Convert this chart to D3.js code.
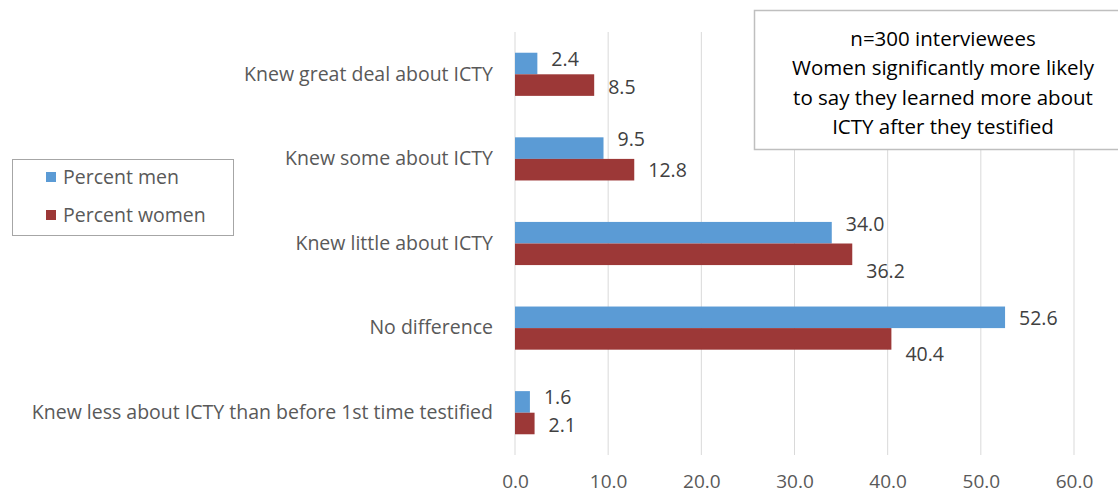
<!DOCTYPE html>
<html>
<head>
<meta charset="utf-8">
<script src="https://cdn.jsdelivr.net/npm/d3@7"></script>
<style>
  body { margin: 0; background: #fff; }
  svg text { font-family: "Open Sans", "Noto Sans", sans-serif; }
</style>
</head>
<body>
<div id="chart"></div>
<script>
// data
var categories = [
  "Knew great deal about ICTY",
  "Knew some about ICTY",
  "Knew little about ICTY",
  "No difference",
  "Knew less about ICTY than before 1st time testified"
];
var seriesNames = ["Percent men", "Percent women"];
var percentMen = [2.4, 9.5, 34.0, 52.6, 1.6];
var percentWomen = [8.5, 12.8, 36.2, 40.4, 2.1];
var xTicks = [0, 10, 20, 30, 40, 50, 60];
var noteLines = [
  "n=300 interviewees",
  "Women significantly more likely",
  "to say they learned more about",
  "ICTY after they testified"
];

// label nudges (vertical, px) so labels sit like the original
var menLabelDy = [-4, -9, -9, 1, -5];
var womenLabelDy = [2, 1, 17, 15, 2];

var colors = ["#5B9BD5", "#9C3837"];

var svgWidth = 1118;
var svgHeight = 495;
var margin = { top: 32, right: 44, bottom: 40, left: 515 };
var width = svgWidth - margin.left - margin.right;
var height = svgHeight - margin.top - margin.bottom;

var svg = d3.select("#chart")
            .append("svg")
            .attr("width", svgWidth)
            .attr("height", svgHeight);

var chartGroup = svg.append("g")
                    .attr("transform", `translate(${margin.left}, ${margin.top})`);

var xScale = d3.scaleLinear()
               .domain([0, 60])
               .range([0, 559]);

var yScale = d3.scaleBand()
               .domain(categories)
               .range([0, height])
               .paddingInner(0.49)
               .paddingOuter(0.245);

var subScale = d3.scaleBand()
                 .domain(seriesNames)
                 .range([0, yScale.bandwidth()]);

// gridlines
chartGroup.selectAll(".grid")
          .data(xTicks)
          .enter()
          .append("line")
          .attr("x1", d => xScale(d))
          .attr("x2", d => xScale(d))
          .attr("y1", 0)
          .attr("y2", height)
          .attr("stroke", "#d9d9d9")
          .attr("stroke-width", 1);

// x axis labels
var bottomAxis = d3.axisBottom(xScale)
                   .tickValues(xTicks)
                   .tickFormat(d3.format(".1f"))
                   .tickSize(0)
                   .tickPadding(20);

var xAxisG = chartGroup.append("g")
                       .attr("transform", `translate(0, ${height})`)
                       .call(bottomAxis);
xAxisG.select(".domain").remove();
xAxisG.selectAll("text")
      .attr("font-size", 19)
      .attr("fill", "#595959")
      .style("font-family", "'Open Sans', sans-serif");

// y axis labels
var leftAxis = d3.axisLeft(yScale)
                 .tickSize(0)
                 .tickPadding(22);
var yAxisG = chartGroup.append("g").call(leftAxis);
yAxisG.select(".domain").remove();
yAxisG.selectAll("text")
      .attr("font-size", 19.5)
      .attr("fill", "#595959")
      .style("font-family", "'Open Sans', sans-serif");

// bars
var rows = categories.map(function(c, i) {
  return { cat: c, i: i, values: [percentMen[i], percentWomen[i]] };
});

var rowGroups = chartGroup.selectAll(".row")
                          .data(rows)
                          .enter()
                          .append("g")
                          .attr("transform", d => `translate(0, ${yScale(d.cat)})`);

rowGroups.selectAll("rect")
         .data(d => d.values.map((v, s) => ({ v: v, s: s, i: d.i })))
         .enter()
         .append("rect")
         .attr("x", xScale(0))
         .attr("y", d => subScale(seriesNames[d.s]))
         .attr("width", d => xScale(d.v) - xScale(0))
         .attr("height", subScale.bandwidth())
         .attr("fill", d => colors[d.s]);

rowGroups.selectAll(".val")
         .data(d => d.values.map((v, s) => ({ v: v, s: s, i: d.i })))
         .enter()
         .append("text")
         .attr("x", d => xScale(d.v) + 14)
         .attr("y", d => subScale(seriesNames[d.s]) + subScale.bandwidth() / 2 +
                         (d.s === 0 ? menLabelDy[d.i] : womenLabelDy[d.i]))
         .attr("dy", "0.35em")
         .attr("font-size", 19.5)
         .attr("fill", "#404040")
         .text(d => d3.format(".1f")(d.v));

// legend
var legend = svg.append("g").attr("transform", "translate(12, 159)");
legend.append("rect")
      .attr("x", 0.5).attr("y", 0.5)
      .attr("width", 221).attr("height", 76)
      .attr("fill", "#fff")
      .attr("stroke", "#a6a6a6");
var legendItems = legend.selectAll(".item")
                        .data(seriesNames)
                        .enter()
                        .append("g")
                        .attr("transform", (d, i) => `translate(34, ${18 + i * 38})`);
legendItems.append("rect")
           .attr("x", 0).attr("y", -5)
           .attr("width", 10).attr("height", 10)
           .attr("fill", (d, i) => colors[i]);
legendItems.append("text")
           .attr("x", 17)
           .attr("dy", "0.35em")
           .attr("font-size", 19.5)
           .attr("fill", "#595959")
           .text(d => d);

// annotation box
var note = svg.append("g").attr("transform", "translate(754, 10)");
note.append("rect")
    .attr("x", 0.5).attr("y", 0.5)
    .attr("width", 370).attr("height", 139)
    .attr("fill", "#fff")
    .attr("stroke", "#bfbfbf")
    .attr("stroke-width", 1.5);
note.selectAll(".line")
    .data(noteLines)
    .enter()
    .append("text")
    .attr("x", 189)
    .attr("y", (d, i) => 29 + i * 29.3)
    .attr("dy", "0.35em")
    .attr("text-anchor", "middle")
    .attr("font-size", 20.5)
    .attr("fill", "#000")
    .text(d => d);
</script>
</body>
</html>
